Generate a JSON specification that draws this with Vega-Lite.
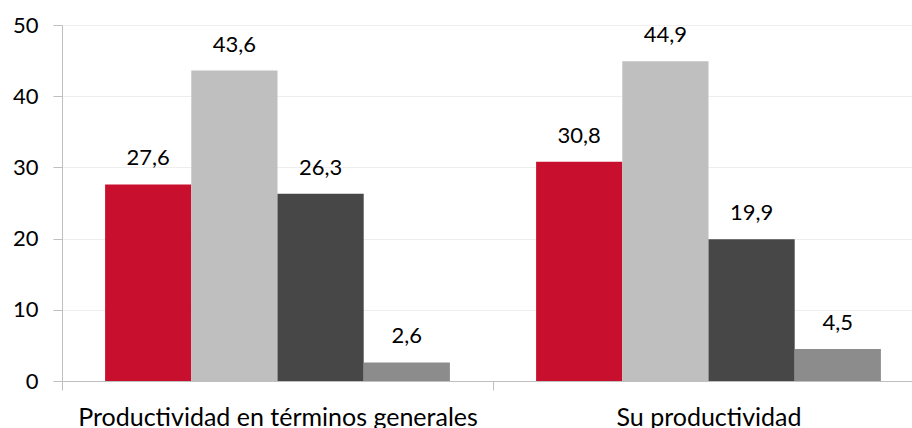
{
  "$schema": "https://vega.github.io/schema/vega-lite/v6.json",
  "width": 850,
  "height": 356,
  "autosize": {"type": "none"},
  "padding": {"left": 62, "top": 25, "right": 0, "bottom": 47},
  "config": {
    "locale": {"number": {"decimal": ",", "thousands": ".", "grouping": [3], "currency": ["", " €"]}},
    "view": {"stroke": null},
    "font": "Lato"
  },
  "data": {
    "values": [
      {"grupo": "Productividad en términos generales", "serie": "S1", "valor": 27.6},
      {"grupo": "Productividad en términos generales", "serie": "S2", "valor": 43.6},
      {"grupo": "Productividad en términos generales", "serie": "S3", "valor": 26.3},
      {"grupo": "Productividad en términos generales", "serie": "S4", "valor": 2.6},
      {"grupo": "Su productividad", "serie": "S1", "valor": 30.8},
      {"grupo": "Su productividad", "serie": "S2", "valor": 44.9},
      {"grupo": "Su productividad", "serie": "S3", "valor": 19.9},
      {"grupo": "Su productividad", "serie": "S4", "valor": 4.5}
    ]
  },
  "encoding": {
    "x": {
      "field": "grupo",
      "type": "nominal",
      "sort": null,
      "scale": {"range": [0, 862], "paddingInner": 0, "paddingOuter": 0},
      "axis": {
        "title": null,
        "labelAngle": 0,
        "labelFontSize": 25,
        "labelLimit": 0,
        "labelColor": "#000000",
        "labelBaseline": "alphabetic",
        "labelPadding": 35,
        "tickBand": "extent",
        "tickSize": 9,
        "tickColor": "#BFBFBF",
        "domainColor": "#BFBFBF",
        "grid": false
      }
    },
    "xOffset": {"field": "serie", "type": "nominal", "sort": null, "scale": {"paddingInner": 0, "paddingOuter": 0.5}},
    "y": {
      "field": "valor",
      "type": "quantitative",
      "scale": {"domain": [0, 50], "nice": false},
      "axis": {
        "title": null,
        "values": [0, 10, 20, 30, 40, 50],
        "labelFontSize": 22,
        "labelColor": "#000000",
        "labelPadding": 15,
        "tickSize": 9,
        "tickColor": "#BFBFBF",
        "domainColor": "#BFBFBF",
        "gridColor": "#EEEEEE",
        "grid": true
      }
    }
  },
  "layer": [
    {
      "mark": {"type": "bar"},
      "encoding": {
        "color": {
          "field": "serie",
          "type": "nominal",
          "sort": null,
          "scale": {"range": ["#C8102E", "#BFBFBF", "#474747", "#8C8C8C"]},
          "legend": null
        }
      }
    },
    {
      "mark": {"type": "text", "baseline": "alphabetic", "dy": -19, "fontSize": 22, "color": "#000000"},
      "encoding": {"text": {"field": "valor", "type": "quantitative", "format": ".1f"}}
    }
  ]
}
